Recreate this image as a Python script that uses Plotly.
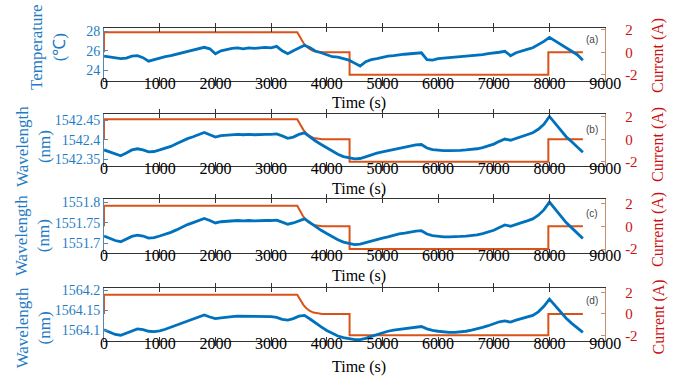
import plotly.graph_objects as go

# ---- data -------------------------------------------------------------
time_s = list(range(0, 8700, 100))

temperature_c = [
    25.45, 25.35, 25.25, 25.2, 25.25, 25.45, 25.5, 25.3, 24.95, 25.1,
    25.3, 25.4, 25.5, 25.65, 25.8, 25.95, 26.1, 26.2, 26.35, 26.2,
    25.7, 26.0, 26.15, 26.25, 26.3, 26.2, 26.3, 26.25, 26.3, 26.35,
    26.3, 26.45, 26.0, 25.7, 26.0, 26.3, 26.55, 26.3, 25.95, 25.8,
    25.6, 25.4, 25.35, 25.2, 25.05, 24.75, 24.45, 24.9, 25.1, 25.2,
    25.35, 25.45, 25.5, 25.6, 25.65, 25.7, 25.75, 25.8, 25.1, 25.05,
    25.2, 25.25, 25.3, 25.35, 25.35, 25.45, 25.5, 25.55, 25.6, 25.7,
    25.75, 25.85, 25.95, 25.5, 25.8, 26.0, 26.15, 26.3, 26.6, 26.95,
    27.35, 27.0, 26.6, 26.25, 25.95, 25.6, 25.05,
]

wavelength_b = [
    1542.374, 1542.369, 1542.362, 1542.359, 1542.366, 1542.374, 1542.377, 1542.374, 1542.369, 1542.370,
    1542.374, 1542.378, 1542.383, 1542.390, 1542.397, 1542.403, 1542.408, 1542.414, 1542.419, 1542.413,
    1542.407, 1542.411, 1542.412, 1542.413, 1542.414, 1542.413, 1542.414, 1542.413, 1542.414, 1542.414,
    1542.414, 1542.415, 1542.410, 1542.404, 1542.407, 1542.414, 1542.418, 1542.407, 1542.397, 1542.388,
    1542.379, 1542.371, 1542.363, 1542.357, 1542.354, 1542.351, 1542.352, 1542.357, 1542.362, 1542.366,
    1542.369, 1542.372, 1542.376, 1542.379, 1542.382, 1542.385, 1542.387, 1542.388, 1542.379, 1542.375,
    1542.373, 1542.372, 1542.372, 1542.372, 1542.373, 1542.374, 1542.375, 1542.377, 1542.380, 1542.384,
    1542.389, 1542.396, 1542.402, 1542.399, 1542.404, 1542.408, 1542.413, 1542.418, 1542.427, 1542.440,
    1542.460, 1542.443, 1542.424, 1542.408, 1542.395, 1542.382, 1542.368,
]

wavelength_c = [
    1551.718, 1551.713, 1551.707, 1551.704, 1551.710, 1551.717, 1551.720, 1551.718, 1551.713, 1551.714,
    1551.718, 1551.722, 1551.727, 1551.733, 1551.740, 1551.746, 1551.751, 1551.756, 1551.761, 1551.756,
    1551.750, 1551.753, 1551.754, 1551.755, 1551.756, 1551.755, 1551.756, 1551.755, 1551.756, 1551.756,
    1551.756, 1551.757, 1551.752, 1551.747, 1551.750, 1551.756, 1551.760, 1551.751, 1551.741, 1551.732,
    1551.724, 1551.716, 1551.709, 1551.703, 1551.700, 1551.697, 1551.698, 1551.702, 1551.706, 1551.710,
    1551.713, 1551.716, 1551.720, 1551.723, 1551.725, 1551.728, 1551.730, 1551.731, 1551.723, 1551.719,
    1551.717, 1551.716, 1551.716, 1551.716, 1551.717, 1551.718, 1551.719, 1551.721, 1551.724, 1551.728,
    1551.732, 1551.739, 1551.745, 1551.742, 1551.747, 1551.751, 1551.755, 1551.760, 1551.769, 1551.782,
    1551.801, 1551.784, 1551.766, 1551.751, 1551.738, 1551.726, 1551.712,
]

wavelength_d = [
    1564.101, 1564.096, 1564.089, 1564.087, 1564.092, 1564.099, 1564.103, 1564.101, 1564.097, 1564.096,
    1564.098, 1564.102, 1564.107, 1564.113, 1564.119, 1564.124, 1564.129, 1564.134, 1564.138, 1564.133,
    1564.129, 1564.131, 1564.133, 1564.134, 1564.135, 1564.135, 1564.135, 1564.134, 1564.134, 1564.134,
    1564.134, 1564.132, 1564.127, 1564.125, 1564.129, 1564.135, 1564.137, 1564.128, 1564.117, 1564.108,
    1564.099, 1564.091, 1564.085, 1564.081, 1564.078, 1564.076, 1564.076, 1564.079, 1564.084, 1564.089,
    1564.093, 1564.097, 1564.100, 1564.102, 1564.104, 1564.106, 1564.108, 1564.109, 1564.103, 1564.099,
    1564.097, 1564.095, 1564.094, 1564.094, 1564.095, 1564.097, 1564.100, 1564.103, 1564.107, 1564.111,
    1564.116, 1564.121, 1564.123, 1564.120, 1564.125, 1564.129, 1564.133, 1564.137, 1564.146, 1564.160,
    1564.178, 1564.162, 1564.145, 1564.130, 1564.117, 1564.105, 1564.094,
]

# drive current profile (shared by all four runs)
current_t = [0, 0, 3470, 3500, 3540, 3580, 3630, 3690, 3760, 3850, 3920,
             4410, 4410, 7980, 7980, 8600]
current_a = [0, 1.8, 1.8, 1.55, 1.15, 0.85, 0.55, 0.3, 0.12, 0.03, 0,
             0, -2, -2, 0, 0]

x_ticks = list(range(0, 10000, 1000))
x_tick_labels = [str(v) for v in x_ticks]
cur_ticks = [-2, 0, 2]
cur_tick_labels = ["-2", "0", "2"]

panels = [
    dict(tag="(a)", y=temperature_c, title="Temperature<br>(\u2103)",
         ticks=[24, 26, 28], ticklabels=["24", "26", "28"]),
    dict(tag="(b)", y=wavelength_b, title="Wavelength<br>(nm)",
         ticks=[1542.35, 1542.4, 1542.45], ticklabels=["1542.35", "1542.4", "1542.45"]),
    dict(tag="(c)", y=wavelength_c, title="Wavelength<br>(nm)",
         ticks=[1551.7, 1551.75, 1551.8], ticklabels=["1551.7", "1551.75", "1551.8"]),
    dict(tag="(d)", y=wavelength_d, title="Wavelength<br>(nm)",
         ticks=[1564.1, 1564.15, 1564.2], ticklabels=["1564.1", "1564.15", "1564.2"]),
]

# ---- styling / layout -------------------------------------------------
W, H = 693, 385
BLUE = "#0072BD"
ORANGE = "#D95319"
LBLUE = "#1f7cc4"
RED = "#cc1111"
SERIF = "Liberation Serif, Times New Roman, serif"

x_dom = [103 / W, 619 / W]
# pixel extents of each panel (top, bottom)
rows_px = [(22.7, 77), (110.7, 165), (199, 254), (290, 345)]
left_ranges = [[22.96, 28.3], [1542.332, 1542.4675], [1551.677, 1551.808], [1564.072, 1564.207]]
right_ranges = [[-2.55, 2.17], [-2.4, 2.3], [-2.32, 2.37], [-2.55, 2.45]]
left_title_pos = [(45, 42.5), (31, 145), (30, 236.7), (30, 331.7)]
right_title_y = [50.8, 142.5, 230, 320]
time_label_y = [100, 188, 278, 372]
tag_y = [34, 127, 214, 303]

fig = go.Figure()
layout = dict(
    width=W, height=H, margin=dict(l=0, r=0, t=0, b=0),
    paper_bgcolor="white", plot_bgcolor="white", showlegend=False,
    annotations=[],
)

for i, p in enumerate(panels, start=1):
    top, bot = rows_px[i - 1]
    y_dom = [1 - bot / H, 1 - top / H]
    xa = f"xaxis{i}" if i > 1 else "xaxis"
    cur_ax = f"yaxis{2 * i - 1}" if i > 1 else "yaxis"
    val_ax = f"yaxis{2 * i}"
    xref = f"x{i}" if i > 1 else "x"
    cur_ref = f"y{2 * i - 1}" if i > 1 else "y"
    val_ref = f"y{2 * i}"

    layout[xa] = dict(
        domain=x_dom, anchor=cur_ref, range=[0, 9000],
        tickvals=x_ticks, ticktext=x_tick_labels,
        ticks="inside", ticklen=4, tickcolor="#333",
        showline=True, linecolor="#333", linewidth=1, mirror="allticks",
        showgrid=False, zeroline=False,
        tickfont=dict(family=SERIF, size=16, color="black"),
        ticklabelstandoff=-12,
    )
    # current axis (right side) is the base; measured quantity is drawn on top
    layout[cur_ax] = dict(
        domain=y_dom, anchor=xref, side="right", range=right_ranges[i - 1],
        tickvals=cur_ticks, ticktext=cur_tick_labels,
        ticks="inside", ticklen=4, tickcolor="#c8906a",
        showline=True, linecolor="#c8906a", linewidth=1,
        showgrid=False, zeroline=False,
        tickfont=dict(family=SERIF, size=15, color=RED),
        ticklabelstandoff=16,
    )
    layout[val_ax] = dict(
        overlaying=cur_ref, anchor=xref, side="left", range=left_ranges[i - 1],
        tickvals=p["ticks"], ticktext=p["ticklabels"],
        ticks="inside", ticklen=4, tickcolor="#5a86a8",
        showline=True, linecolor="#5a86a8", linewidth=1,
        showgrid=False, zeroline=False,
        tickfont=dict(family=SERIF, size=14, color=LBLUE),
    )

    fig.add_trace(go.Scatter(
        x=current_t, y=current_a, xaxis=xref, yaxis=cur_ref, mode="lines",
        line=dict(color=ORANGE, width=2), hoverinfo="skip",
    ))
    fig.add_trace(go.Scatter(
        x=time_s, y=p["y"], xaxis=xref, yaxis=val_ref, mode="lines",
        line=dict(color=BLUE, width=2.8), hoverinfo="skip",
    ))

    lx, ly = left_title_pos[i - 1]
    layout["annotations"] += [
        dict(text=p["title"], x=lx / W, y=1 - ly / H, xref="paper", yref="paper",
             textangle=-90, showarrow=False, xanchor="center", yanchor="middle",
             font=dict(family=SERIF, size=17, color=LBLUE)),
        dict(text="Current (A)", x=674 / W, y=1 - right_title_y[i - 1] / H,
             xref="paper", yref="paper", textangle=-90, showarrow=False,
             xanchor="center", yanchor="middle",
             font=dict(family=SERIF, size=16, color=RED)),
        dict(text="Time (s)", x=366 / W, y=1 - time_label_y[i - 1] / H,
             xref="paper", yref="paper", showarrow=False,
             xanchor="center", yanchor="middle",
             font=dict(family=SERIF, size=16, color="black")),
        dict(text=p["tag"], x=605 / W, y=1 - tag_y[i - 1] / H,
             xref="paper", yref="paper", showarrow=False,
             xanchor="center", yanchor="middle",
             font=dict(family="Liberation Sans, Arial, sans-serif", size=10, color="#444")),
    ]

fig.update_layout(**layout)
fig.write_html("out.html")
